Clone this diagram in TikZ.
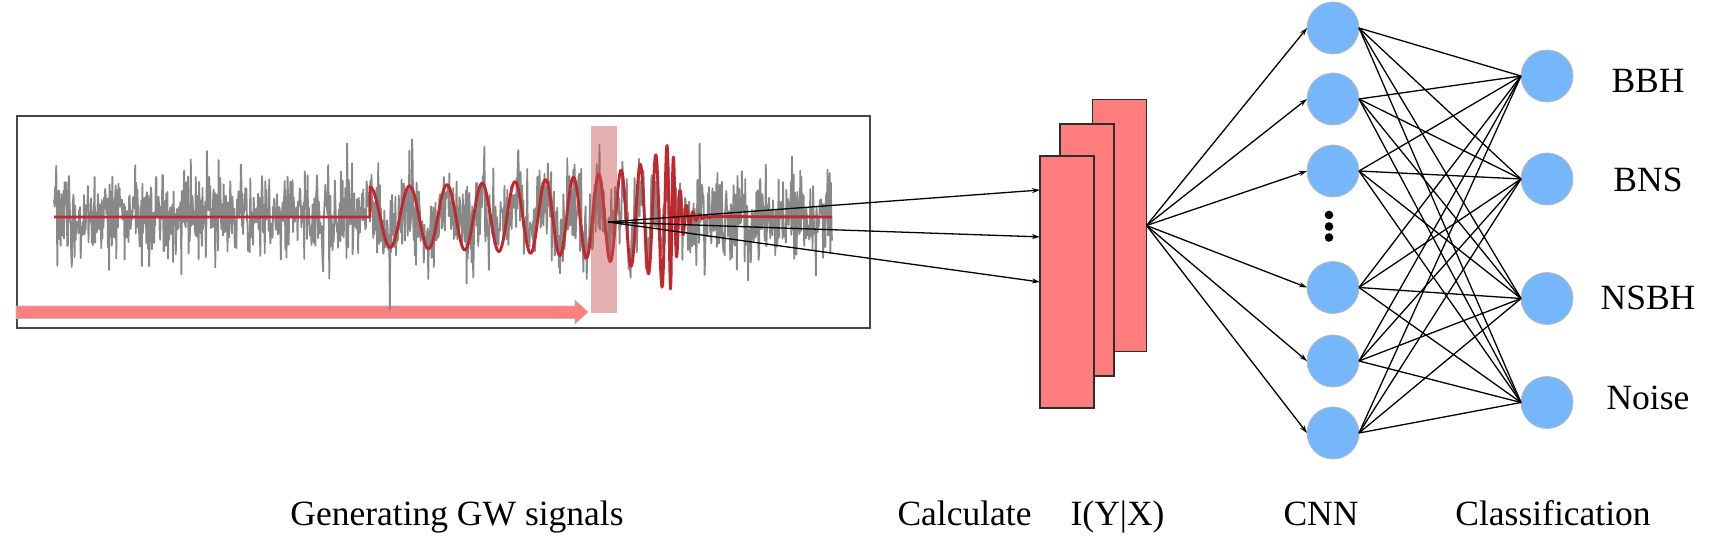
\documentclass[tikz,border=0pt]{standalone}
\usepackage{fontspec}
\setmainfont{Liberation Serif}
\usetikzlibrary{arrows.meta,calc}
\definecolor{nblue}{RGB}{118,182,250}
\definecolor{ngray}{RGB}{185,185,185}
\definecolor{fpink}{RGB}{255,125,125}
\definecolor{fborder}{RGB}{45,45,45}
\definecolor{framec}{RGB}{70,70,70}
\definecolor{gtrace}{RGB}{136,136,136}
\definecolor{rtrace}{RGB}{192,40,45}
\definecolor{apink}{RGB}{255,128,128}
\definecolor{hlc}{RGB}{200,80,80}
\tikzset{
  neuron/.style={circle, fill=nblue, draw=ngray, line width=0.8pt, minimum size=52pt, inner sep=0pt, outer sep=0pt},
  fmap/.style={rectangle, fill=fpink, draw=fborder, line width=1.4pt, minimum width=54pt, minimum height=252pt, inner sep=0pt, outer sep=0pt},
  conn/.style={line width=1.3pt, black},
  arr/.style={conn, -{Stealth[length=8pt,width=5pt]}},
  lbl/.style={font=\fontsize{35.5}{40}\selectfont, inner sep=0pt, anchor=base},
  graytrace/.style={gtrace, line width=1.8pt, line join=round},
  redtrace/.style={rtrace, line width=2.9pt, line join=round},
}
\begin{document}
\begin{tikzpicture}[x=1pt,y=-1pt,
  declare function={
    gwtau(\x)=max(672-\x,0.3);
    gwpf(\x)=sqrt(gwtau(\x))*sqrt(sqrt(sqrt(gwtau(\x))));
    gwamp(\x)=min(72,125/sqrt(sqrt(gwtau(\x))));
    gwph(\x)=120.96*(35.48-gwpf(\x));
    gwrt(\x)=min(max(\x-672,0),60);
    gwring(\x)=72*exp(-gwrt(\x)/8)*cos(4234.8+55.4*gwrt(\x));
    gwin(\x)=(\x>369.99)*(\x<672)*gwamp(\x)*cos(gwph(\x));
    gw(\x)=gwin(\x)+(\x>671.99)*gwring(\x);
  }]
\useasboundingbox (0,0) rectangle (1717,548);
\pgfmathsetseed{4242}
% frame of the signal panel
\draw[framec, line width=2pt] (17,116) rectangle (870,328);
% pink time arrow
\fill[apink, draw=ngray, line width=0.6pt] (16,306) -- (575,306) -- (575,300) -- (588,312) -- (575,324) -- (575,318.5) -- (16,318.5) -- cycle;
% noisy data
\draw[graytrace] plot[domain=54:832, samples=1400, variable=\t]
  (\t, {217 - min(max(19*(rand+rand+rand+rand) + 40*rand*rand*rand + 0.5*gw(\t),-95),92)});
% GW template
\draw[redtrace] (54,217) -- (370,217)
  -- plot[domain=370:671.9, samples=700, variable=\t] (\t, {217-gwamp(\t)*cos(gwph(\t))})
  -- plot[domain=672:712, samples=200, variable=\t] (\t, {217-gwring(\t)})
  -- (832,217);
% highlighted window
\fill[hlc, fill opacity=0.45] (591,126) rectangle (617,313);
\coordinate (src) at (608,222);

% feature maps
\node[fmap] (back) at (1119.5,225.5) {};
\node[fmap] (mid) at (1087,250) {};
\node[fmap] (front) at (1067,282) {};
\coordinate (in1) at ($(front.north west)!0.135!(front.south west)$);
\coordinate (in2) at ($(front.north west)!0.321!(front.south west)$);
\coordinate (in3) at (front.west);
\foreach \k in {1,2,3} \draw[arr] (src) -- (in\k);

% hidden layer
\node[neuron] (h1) at (1333,28) {};
\node[neuron] (h2) at (1333,99) {};
\node[neuron] (h3) at (1333,171) {};
\node[neuron] (h4) at (1333,287.5) {};
\node[neuron] (h5) at (1333,361) {};
\node[neuron] (h6) at (1333,433) {};
\fill (1329,215) circle (4.3) (1329,226.5) circle (4.3) (1329,237.5) circle (4.3);

% output layer
\node[neuron] (o1) at (1547,76) {};
\node[neuron] (o2) at (1547,179) {};
\node[neuron] (o3) at (1547,298.5) {};
\node[neuron] (o4) at (1547,402.5) {};

\foreach \i in {1,...,6} \draw[arr] (back.east) -- (h\i.west);
\foreach \i in {1,...,6} \foreach \j in {1,...,4} \draw[conn] (h\i.east) -- (o\j.west);

% class labels
\node[lbl] (lb1) at (1648,92.5) {BBH};
\node[lbl] (lb2) at (1648,192) {BNS};
\node[lbl] (lb3) at (1648,309) {NSBH};
\node[lbl] (lb4) at (1648,409) {Noise};

% stage captions
\node[lbl] (c1) at (457,525) {Generating GW signals};
\node[lbl] (c2) at (1031,525) {Calculate\hspace{1.1em}I(Y|X)};
\node[lbl] (c3) at (1321,525) {CNN};
\node[lbl] (c4) at (1553,525) {Classification};
\end{tikzpicture}
\end{document}
